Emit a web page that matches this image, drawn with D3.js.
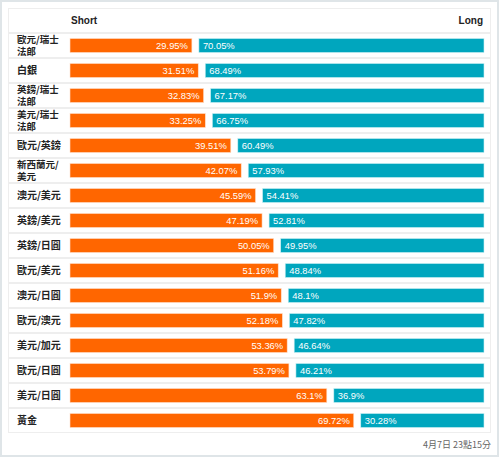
<!DOCTYPE html>
<html><head><meta charset="utf-8">
<script src="https://cdn.jsdelivr.net/npm/d3@7/dist/d3.min.js"></script>
<style>html,body{margin:0;padding:0;background:#fff;}svg{display:block;}</style>
</head><body><svg id="c" width="500" height="458"></svg>
<script>
const categories = ["歐元/瑞士法郎","白銀","英鎊/瑞士法郎","美元/瑞士法郎","歐元/英鎊","新西蘭元/美元","澳元/美元","英鎊/美元","英鎊/日圓","歐元/美元","澳元/日圓","歐元/澳元","美元/加元","歐元/日圓","美元/日圓","黃金"];
const shortValues = [29.95,31.51,32.83,33.25,39.51,42.07,45.59,47.19,50.05,51.16,51.9,52.18,53.36,53.79,63.1,69.72];
const longValues = [70.05,68.49,67.17,66.75,60.49,57.93,54.41,52.81,49.95,48.84,48.1,47.82,46.64,46.21,36.9,30.28];
const headers = ["Short","Long"];
const timestamp = "4月7日 23點15分";

const svg = d3.select("#c");
const labelFont = "'Noto Sans CJK TC','Noto Sans CJK SC',sans-serif";
const numFont = "'Liberation Sans',Arial,sans-serif";

// outer frame
svg.append("rect").attr("x",1).attr("y",1).attr("width",497).attr("height",455)
  .attr("fill","#fff").attr("stroke","#dfe5e8").attr("stroke-width",2);
// inner panel
svg.append("rect").attr("x",8.5).attr("y",8.5).attr("width",482).attr("height",424)
  .attr("fill","#fff").attr("stroke","#eeeeee").attr("stroke-width",1);

const x = d3.scaleLinear().domain([0,100]).range([70,477]);
const gap = 7;
const y = d3.scaleBand().domain(categories).range([33,433]).paddingInner(0);
const barH = 14;

const rows = categories.map((c,i)=>({c, s:shortValues[i], l:longValues[i]}));

// separators
svg.append("g").selectAll("line").data(categories).join("line")
  .attr("x1",9).attr("x2",490)
  .attr("y1",d=>y(d)).attr("y2",d=>y(d))
  .attr("stroke","#eeeeee").attr("stroke-width",2);

// headers
svg.append("text").attr("x",71).attr("y",24).text(headers[0])
  .attr("font-family",numFont).attr("font-weight","bold").attr("font-size",10).attr("fill","#222");
svg.append("text").attr("x",483).attr("y",24).attr("text-anchor","end").text(headers[1])
  .attr("font-family",numFont).attr("font-weight","bold").attr("font-size",10).attr("fill","#222");

const g = svg.append("g");
// short bars
g.selectAll("rect.s").data(rows).join("rect").attr("class","s")
  .attr("x",x(0)).attr("y",d=>y(d.c)+(y.bandwidth()-barH)/2)
  .attr("width",d=>x(d.s)-x(0)).attr("height",barH)
  .attr("fill","#ff6600").attr("stroke","#ffe0cc").attr("stroke-width",0.6);
// long bars
g.selectAll("rect.l").data(rows).join("rect").attr("class","l")
  .attr("x",d=>x(d.s)+gap).attr("y",d=>y(d.c)+(y.bandwidth()-barH)/2)
  .attr("width",d=>x(d.s+d.l)-x(d.s)).attr("height",barH)
  .attr("fill","#00a6be").attr("stroke","#ccf0f4").attr("stroke-width",0.6);

// value labels
g.selectAll("text.s").data(rows).join("text").attr("class","s")
  .attr("x",d=>x(d.s)-4).attr("y",d=>y(d.c)+y.bandwidth()/2+3.4)
  .attr("text-anchor","end").text(d=>d.s+"%")
  .attr("font-family",numFont).attr("font-size",9.4).attr("fill","#fff");
g.selectAll("text.l").data(rows).join("text").attr("class","l")
  .attr("x",d=>x(d.s)+gap+4).attr("y",d=>y(d.c)+y.bandwidth()/2+3.4)
  .text(d=>d.l+"%")
  .attr("font-family",numFont).attr("font-size",9.4).attr("fill","#fff");

// category labels with wrapping
const maxW = 48;
const lbl = svg.append("g");
categories.forEach(c=>{
  const lines = [];
  let cur = "";
  const probe = lbl.append("text").attr("font-family",labelFont).attr("font-size",10).attr("font-weight","bold");
  for (const ch of c) {
    probe.text(cur+ch);
    if (probe.node().getComputedTextLength() > maxW && cur) { lines.push(cur); cur = ch; }
    else cur += ch;
  }
  lines.push(cur);
  probe.remove();
  const fs = lines.length > 1 ? 9.5 : 10;
  const lh = 11.5;
  const cy = y(c)+y.bandwidth()/2;
  const y0 = cy - (lines.length-1)*lh/2 + 3.5;
  lines.forEach((ln,i)=>{
    lbl.append("text").attr("font-family",labelFont).attr("font-size",fs)
      .attr("font-weight","bold").attr("fill","#222")
      .attr("x",17).attr("y",y0+i*lh).text(ln);
  });
});

svg.append("text").attr("x",491).attr("y",448).attr("text-anchor","end").text(timestamp)
  .attr("font-family",labelFont).attr("font-size",9).attr("fill","#666");
</script></body></html>
